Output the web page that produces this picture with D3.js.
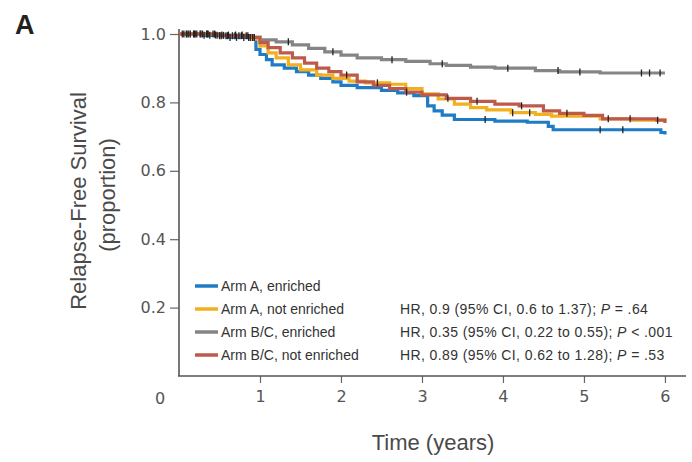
<!DOCTYPE html>
<html>
<head>
<meta charset="utf-8">
<script src="https://cdn.jsdelivr.net/npm/d3@7/dist/d3.min.js"></script>
<style>
  html, body { margin: 0; padding: 0; background: #fff; }
  svg { display: block; font-family: "Liberation Sans", Arial, sans-serif; }
</style>
</head>
<body>
<svg id="chart" width="692" height="462"></svg>
<script>
// Kaplan-Meier step curves: [time (years), relapse-free proportion]
const armAEnriched = [
  [0, 1.0], [0.3, 0.996], [0.6, 0.99], [0.9, 0.984], [0.95, 0.955], [1.0, 0.94],
  [1.08, 0.925], [1.15, 0.91], [1.3, 0.9], [1.45, 0.89], [1.6, 0.88], [1.75, 0.87],
  [1.9, 0.86], [2.0, 0.85], [2.2, 0.843], [2.5, 0.835], [2.7, 0.828], [2.9, 0.82],
  [3.07, 0.79], [3.15, 0.775], [3.25, 0.763], [3.4, 0.75], [3.9, 0.745], [4.3, 0.742],
  [4.56, 0.73], [4.62, 0.72], [5.95, 0.712], [6.0, 0.706]
];
const armANotEnriched = [
  [0, 1.0], [0.5, 0.995], [0.9, 0.985], [1.0, 0.965], [1.1, 0.945], [1.2, 0.93],
  [1.35, 0.91], [1.5, 0.895], [1.7, 0.88], [1.9, 0.87], [2.1, 0.862], [2.3, 0.857],
  [2.6, 0.853], [2.8, 0.84], [3.0, 0.825], [3.2, 0.81], [3.4, 0.795], [3.6, 0.785],
  [3.8, 0.778], [4.1, 0.77], [4.4, 0.765], [4.6, 0.76], [5.2, 0.752], [5.6, 0.748],
  [6.0, 0.745]
];
const armBCEnriched = [
  [0, 1.0], [0.4, 0.997], [0.8, 0.99], [1.0, 0.983], [1.2, 0.977], [1.4, 0.968],
  [1.6, 0.958], [1.8, 0.948], [2.0, 0.938], [2.2, 0.93], [2.5, 0.925], [2.8, 0.92],
  [3.1, 0.913], [3.3, 0.908], [3.6, 0.903], [3.9, 0.9], [4.4, 0.893], [4.7, 0.889],
  [5.2, 0.886], [6.0, 0.886]
];
const armBCNotEnriched = [
  [0, 1.0], [0.5, 0.995], [0.9, 0.99], [1.0, 0.975], [1.1, 0.96], [1.25, 0.945],
  [1.4, 0.93], [1.55, 0.915], [1.7, 0.9], [1.85, 0.89], [2.0, 0.88], [2.2, 0.86],
  [2.4, 0.85], [2.6, 0.84], [2.8, 0.83], [3.0, 0.822], [3.3, 0.812], [3.6, 0.803],
  [3.9, 0.795], [4.2, 0.79], [4.5, 0.775], [4.7, 0.768], [5.0, 0.762], [5.23, 0.752],
  [5.9, 0.748], [6.0, 0.74]
];

// Censoring times (years) for each arm
const censorAEnriched = [0.06, 0.14, 0.22, 0.31, 0.38, 0.47, 0.55, 0.63, 0.71, 0.8, 0.88, 3.78, 5.2, 5.48];
const censorANotEnriched = [0.09, 0.18, 0.27, 0.35, 0.44, 0.52, 0.6, 0.69, 0.77, 0.85, 2.45, 4.12, 4.33];
const censorBCEnriched = [0.04, 0.12, 0.2, 0.29, 0.36, 0.45, 0.53, 0.61, 0.7, 0.78, 0.86, 0.93,
  1.35, 1.9, 2.63, 3.25, 4.06, 4.68, 4.95, 5.71, 5.81, 5.94];
const censorBCNotEnriched = [0.1, 0.19, 0.26, 0.34, 0.42, 0.5, 0.58, 0.66, 0.74, 0.83, 0.91,
  2.07, 2.81, 3.32, 3.68, 4.23, 4.79, 5.3, 5.57, 5.91];

const seriesNames = ["Arm A, enriched", "Arm A, not enriched", "Arm B/C, enriched", "Arm B/C, not enriched"];
const seriesColors = ["#1f7cc4", "#f2b01e", "#858585", "#bd5a4c"];
const hrLabels = [
  null,
  ["HR, 0.9 (95% CI, 0.6 to 1.37); ", "P", " = .64"],
  ["HR, 0.35 (95% CI, 0.22 to 0.55); ", "P", " < .001"],
  ["HR, 0.89 (95% CI, 0.62 to 1.28); ", "P", " = .53"]
];
const xTicks = [1, 2, 3, 4, 5, 6];
const yTicks = [0.2, 0.4, 0.6, 0.8, 1.0];

const curves = [armAEnriched, armANotEnriched, armBCEnriched, armBCNotEnriched];
const censors = [censorAEnriched, censorANotEnriched, censorBCEnriched, censorBCNotEnriched];
// draw order: gray underneath, then blue, yellow, red on top
const drawOrder = [2, 0, 1, 3];

const svg = d3.select("#chart");

const x = d3.scaleLinear().domain([0, 6.26]).range([179, 686]);
const y = d3.scaleLinear().domain([0, 1]).range([376, 34]);

// panel letter
svg.append("text").attr("x", 15).attr("y", 34)
  .attr("font-size", 27).attr("font-weight", "bold").attr("fill", "#222")
  .text("A");

// y axis
const yAxis = svg.append("g").attr("transform", "translate(179,0)")
  .call(d3.axisLeft(y).tickValues(yTicks).tickFormat(d3.format(".1f")).tickSize(9).tickPadding(4));
yAxis.select(".domain").remove();
yAxis.append("line").attr("x1", 0).attr("x2", 0).attr("y1", 29).attr("y2", 376)
  .attr("stroke", "#555").attr("stroke-width", 1.6);
yAxis.selectAll(".tick line").attr("stroke", "#666").attr("stroke-width", 1.2);
yAxis.selectAll(".tick text").attr("fill", "#555").attr("font-size", 16)
  .attr("font-family", "'DejaVu Sans', sans-serif");

// x axis
const xAxis = svg.append("g").attr("transform", "translate(0,376)")
  .call(d3.axisBottom(x).tickValues(xTicks).tickFormat(d3.format("d")).tickSize(7).tickPadding(8));
xAxis.select(".domain").remove();
xAxis.append("line").attr("x1", 178).attr("x2", 686).attr("y1", 0).attr("y2", 0)
  .attr("stroke", "#555").attr("stroke-width", 1.6);
xAxis.selectAll(".tick line").attr("stroke", "#666").attr("stroke-width", 1.2);
xAxis.selectAll(".tick text").attr("fill", "#555").attr("font-size", 16)
  .attr("font-family", "'DejaVu Sans', sans-serif");

// origin label
svg.append("text").attr("x", 160).attr("y", 404).attr("text-anchor", "middle")
  .attr("fill", "#555").attr("font-size", 16).attr("font-family", "'DejaVu Sans', sans-serif")
  .text("0");

// axis titles
svg.append("text").attr("transform", "translate(86,201) rotate(-90)")
  .attr("text-anchor", "middle").attr("fill", "#4a4a4a").attr("font-size", 22)
  .text("Relapse-Free Survival");
svg.append("text").attr("transform", "translate(115,195) rotate(-90)")
  .attr("text-anchor", "middle").attr("fill", "#4a4a4a").attr("font-size", 22)
  .text("(proportion)");
svg.append("text").attr("x", 433).attr("y", 450)
  .attr("text-anchor", "middle").attr("fill", "#4a4a4a").attr("font-size", 22)
  .text("Time (years)");

// survival curves
const line = d3.line().x(d => x(d[0])).y(d => y(d[1])).curve(d3.curveStepAfter);
const plot = svg.append("g");
drawOrder.forEach(i => {
  plot.append("path").datum(curves[i])
    .attr("fill", "none").attr("stroke", seriesColors[i])
    .attr("stroke-width", 3.2).attr("stroke-linejoin", "miter")
    .attr("d", line);
});

// censor ticks
function survivalAt(curve, t) {
  let s = curve[0][1];
  for (const [ti, si] of curve) { if (ti <= t) s = si; else break; }
  return s;
}
drawOrder.forEach(i => {
  plot.selectAll(null).data(censors[i]).enter().append("line")
    .attr("x1", t => x(t)).attr("x2", t => x(t))
    .attr("y1", t => y(survivalAt(curves[i], t)) - 3.5)
    .attr("y2", t => y(survivalAt(curves[i], t)) + 3.5)
    .attr("stroke", "#222").attr("stroke-width", 1.3);
});

// legend
const legend = svg.append("g");
const rowY = [287, 310, 333, 356];
seriesNames.forEach((name, i) => {
  legend.append("line").attr("x1", 195).attr("x2", 218)
    .attr("y1", rowY[i] - 1).attr("y2", rowY[i] - 1)
    .attr("stroke", seriesColors[i]).attr("stroke-width", 3.5);
  legend.append("text").attr("x", 221).attr("y", rowY[i] + 4)
    .attr("fill", "#333").attr("font-size", 14).text(name);
  if (hrLabels[i]) {
    const t = legend.append("text").attr("x", 400).attr("y", rowY[i] + 4)
      .attr("fill", "#333").attr("font-size", 14).attr("letter-spacing", 0.4);
    t.append("tspan").text(hrLabels[i][0]);
    t.append("tspan").attr("font-style", "italic").text(hrLabels[i][1]);
    t.append("tspan").text(hrLabels[i][2]);
  }
});
</script>
</body>
</html>
